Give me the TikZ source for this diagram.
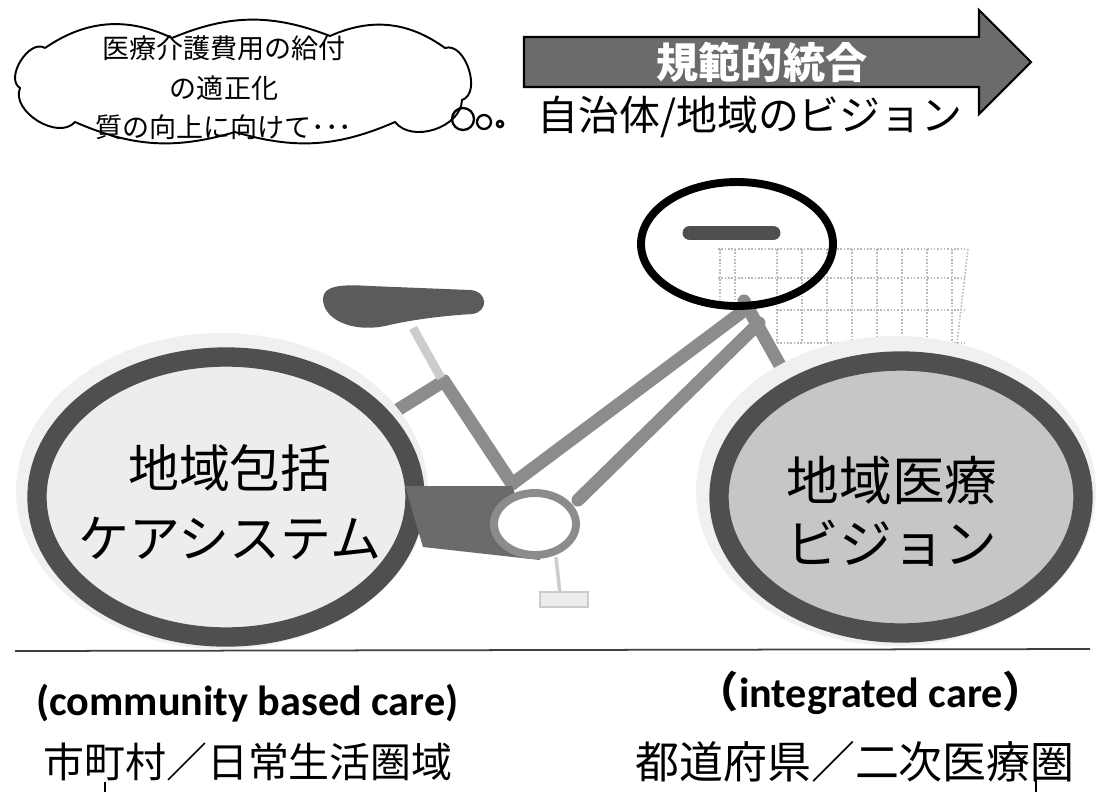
\documentclass[tikz,border=0pt]{standalone}
\usepackage{fontspec}
\setmainfont{Carlito}
\newfontfamily\jp{Noto Sans CJK JP}
\definecolor{tubegray}{HTML}{8C8C8C}
\definecolor{rimgray}{HTML}{4F4F4F}
\definecolor{darkfill}{HTML}{6B6B6B}
\definecolor{rearfill}{HTML}{EDEDED}
\definecolor{frontfill}{HTML}{C6C6C6}

\begin{document}
\begin{tikzpicture}[x=0.02cm,y=-0.02cm,
        tube/.style={draw=tubegray,line width=7.4pt,line cap=round},
        rim/.style={draw=rimgray,line width=11pt},
        faint/.style={draw=gray!40,line width=1pt},
        mesh/.style={draw=gray!55,densely dotted,line width=0.9pt}]
        \useasboundingbox (0,0) rectangle (1096,792);
        % basket
        \foreach \x in {777,802,...,952} \draw[mesh] (\x,249) -- (\x,343);
        \foreach \y in {249,278,310,343} \draw[mesh] (777,\y) -- (965,\y);
        \draw[mesh] (968,249) -- (957,343);
        \foreach \x in {720,735} \draw[mesh] (\x,249) -- (\x,300);
        \draw[mesh] (718,249) -- (777,249);
        \draw[mesh] (718,278) -- (777,278);
        % frame points
        \coordinate (hd) at (744,301);
        \coordinate (ut) at (742,312);
        \coordinate (lt) at (759,323);
        \coordinate (st) at (444,381);
        \coordinate (bb) at (512,484);
        \coordinate (cr) at (535,524);
        \coordinate (rh) at (330,452);
        \coordinate (fk) at (805,410);
        \coordinate (lb) at (578,500);
        % frame
        \draw[tube] (st) -- (rh);
        \draw[tube] (st) -- (bb);
        \draw[tube] (ut) -- (bb);
        \draw[tube] (lt) -- (lb);
        \draw[tube] (hd) -- (fk);
        \fill[tubegray] (hd) circle[radius=6];
        % wheels
        \fill[gray!12] (222,491) ellipse[x radius=206,y radius=158];
        \draw[rim,fill=rearfill] (226,497) ellipse[x radius=189,y radius=140];
        \fill[gray!12] (896,491) ellipse[x radius=200,y radius=155];
        \draw[rim,fill=frontfill] (901,497) ellipse[x radius=182,y radius=136];
        % chain guard, ring and pedal
        \fill[darkfill] (405,486) -- (512,486) -- (540,560) -- (423,547) -- cycle;
        \draw[draw=tubegray,line width=4.5pt,fill=white] (cr) ellipse[x radius=41,y radius=31];
        \draw[faint,line width=2pt] (556,557) -- (560,594);
        \draw[faint,fill=gray!15] (540,592) rectangle (588,607);
        % saddle
        \draw[faint,line width=5pt] (413,328) -- (441,378);
        \fill[darkfill!85!black] (323,298) .. controls (324,286) and (340,284) .. (370,286) -- (470,290)
            .. controls (488,291) and (489,312) .. (472,314) .. controls (440,316) and (410,320) .. (385,326)
            .. controls (350,333) and (322,318) .. (323,298) -- cycle;
        % handlebar
        \draw[line width=8.5pt,line cap=round,draw=rimgray] (690,233) -- (773,233);
        \draw[line width=4.5pt] (737,244) ellipse[x radius=96,y radius=62];
        % ground
        \draw[line width=1pt,black!75] (15,651) -- (1090,649);
        % thought cloud
        \draw[line width=1.1pt] (45,48) to[bend left=30] (172,38) to[bend left=22] (330,36)
            to[bend left=30] (445,48) to[bend left=90] (462,100) to[bend left=70] (395,122)
            to[bend left=20] (235,132) to[bend left=20] (75,122) to[bend left=80] (20,88)
            to[bend left=90] (45,48);
        \node[font=\jp\fontsize{15.4}{22.5}\selectfont,align=center] (cltxt) at (224,88) {医療介護費用の給付\\の適正化\\質の向上に向けて･･･};
        \draw[line width=1.3pt] (463,119) circle[radius=11];
        \draw[line width=1.3pt] (484,122) circle[radius=7];
        \draw[line width=1.5pt] (500,124) circle[radius=3];
        % arrow
        \draw[fill=darkfill,line width=1.2pt] (524,37) -- (979,37) -- (979,10) -- (1031,62) -- (979,114) -- (979,87) -- (524,87) -- cycle;
        \node[font=\jp\bfseries\fontsize{24}{28}\selectfont,text=white] (ar) at (762,62) {規範的統合};
        \node[font=\jp\fontsize{23.3}{28}\selectfont] (vis) at (750,117) {自治体/地域のビジョン};
        % wheel labels
        \node[font=\jp\fontsize{29}{40}\selectfont,align=center] (rw) at (230,502) {地域包括\\ケアシステム};
        \node[font=\jp\fontsize{30}{36}\selectfont,align=center] (fw) at (892,511) {地域医療\\ビジョン};
        % captions
        \node[font=\bfseries\fontsize{24}{28}\selectfont,anchor=base west] (cbc) at (30,715) {(community based care)};
        \node[font=\jp\fontsize{23.3}{28}\selectfont] (mun) at (248,762) {市町村／日常生活圏域};
        \node[font=\bfseries\fontsize{24}{28}\selectfont,anchor=base] (ic) at (871,707) {{\jp （}integrated care{\jp ）}};
        \node[font=\jp\fontsize{25}{28}\selectfont] (pref) at (855,762) {都道府県／二次医療圏};
        \draw[line width=1.2pt] (105,782) -- (105,792);
        \draw[line width=1.2pt] (1036,780) -- (1036,792);
\end{tikzpicture}
\end{document}
